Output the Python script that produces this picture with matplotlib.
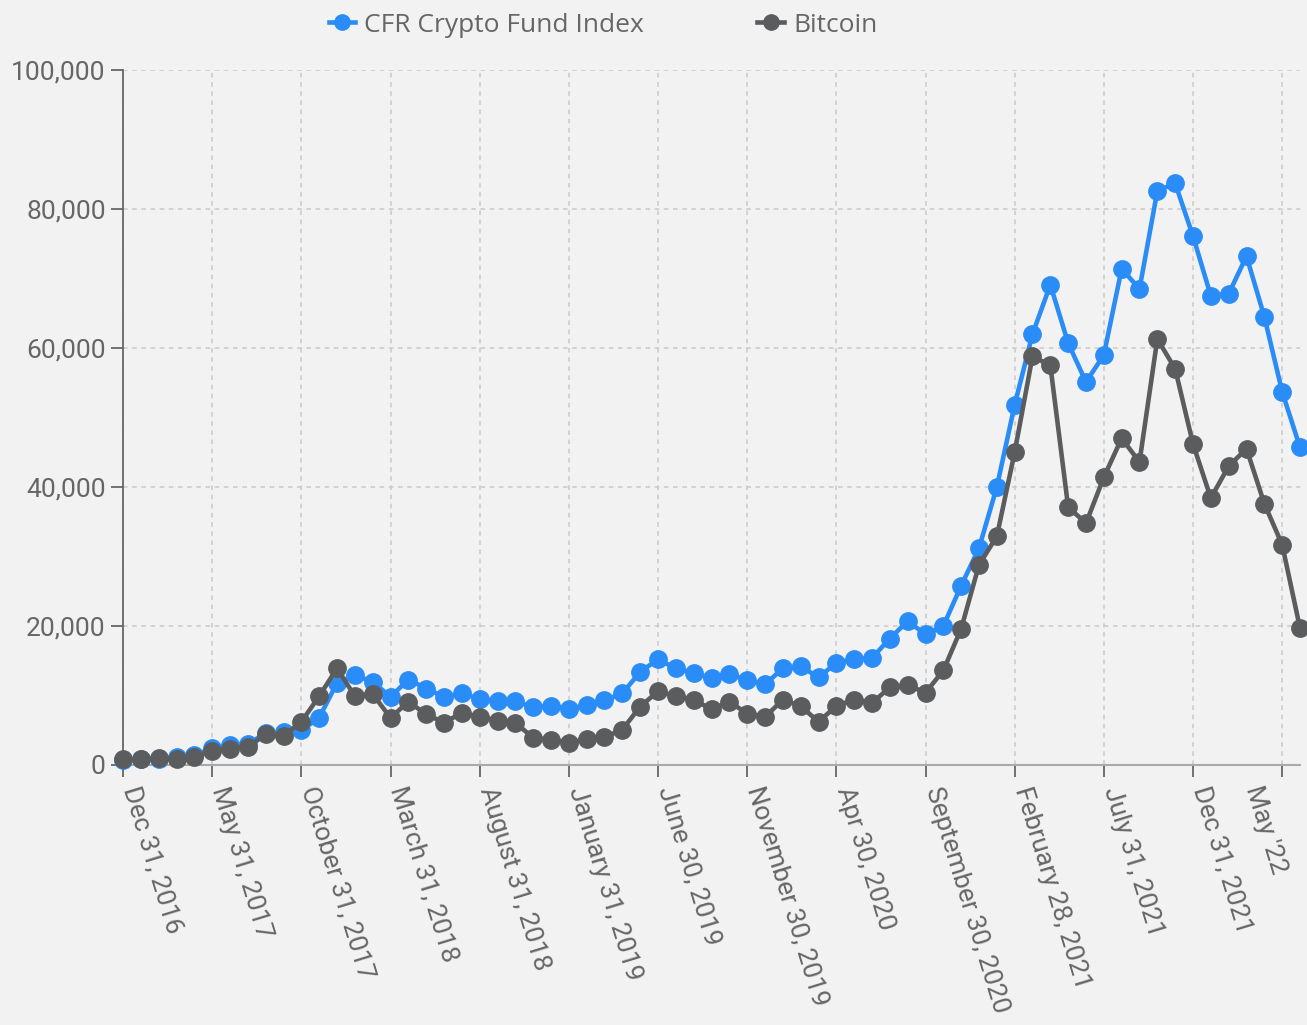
import matplotlib
matplotlib.use("Agg")
import matplotlib.pyplot as plt
from matplotlib.ticker import FuncFormatter
from matplotlib.lines import Line2D

months = list(range(67))  # Dec 2016 .. Jun 2022, monthly

cfr_index = [700, 800, 900, 1100, 1400, 2400, 2900, 3000, 4600, 4700,
             5000, 6800, 11800, 12900, 12000, 9800, 12300, 11000, 9800, 10300,
             9500, 9200, 9200, 8300, 8500, 8000, 8600, 9300, 10300, 13400,
             15200, 13900, 13200, 12500, 13100, 12200, 11600, 13900, 14200, 12600,
             14700, 15200, 15400, 18200, 20700, 18800, 20000, 25800, 31200, 40000,
             51800, 62000, 69100, 60700, 55100, 59000, 71400, 68500, 82600, 83700,
             76100, 67500, 67800, 73200, 64500, 53700, 45700]

bitcoin = [800, 800, 1000, 900, 1200, 2000, 2300, 2600, 4400, 4200,
           6200, 9900, 13900, 9900, 10200, 6800, 9100, 7300, 6100, 7500,
           6900, 6400, 6100, 3900, 3600, 3200, 3700, 4000, 5100, 8400,
           10600, 9900, 9400, 8000, 9100, 7400, 6900, 9400, 8500, 6200,
           8500, 9400, 8900, 11200, 11500, 10400, 13600, 19600, 28800, 32900,
           45000, 58800, 57500, 37100, 34800, 41400, 47000, 43600, 61300, 57000,
           46200, 38400, 43000, 45500, 37600, 31700, 19700]

tick_months = [0, 5, 10, 15, 20, 25, 30, 35, 40, 45, 50, 55, 60, 65]
tick_labels = ["Dec 31, 2016", "May 31, 2017", "October 31, 2017", "March 31, 2018",
               "August 31, 2018", "January 31, 2019", "June 30, 2019",
               "November 30, 2019", "Apr 30, 2020", "September 30, 2020",
               "February 28, 2021", "July 31, 2021", "Dec 31, 2021", "May '22"]
y_ticks = [0, 20000, 40000, 60000, 80000, 100000]

BLUE = "#2a8cf7"
GRAY = "#5b5c5e"
BG = "#f2f2f2"
TXT = "#666666"
ROT = -73
FS = 19

fig = plt.figure(figsize=(13.07, 10.25), dpi=100, facecolor=BG)
ax = fig.add_axes([123/1307, (1025-765)/1025, (1300-123)/1307, 695/1025])
ax.set_facecolor(BG)

ax.plot(months, cfr_index, color=BLUE, lw=3.3, marker="o", ms=12.5,
        clip_on=False, zorder=3, label="CFR Crypto Fund Index")
ax.plot(months, bitcoin, color=GRAY, lw=3.3, marker="o", ms=12.5,
        clip_on=False, zorder=4, label="Bitcoin")

ax.set_xlim(0, 66)
ax.set_ylim(0, 100000)
ax.set_yticks(y_ticks)
ax.yaxis.set_major_formatter(FuncFormatter(lambda v, p: f"{int(v):,}"))
ax.set_xticks(tick_months)
# last label is drawn separately, pulled left so it stays inside the image
ax.set_xticklabels(tick_labels[:-1] + [""], rotation=ROT, ha="left",
                   va="baseline", rotation_mode="anchor")
ax.annotate(tick_labels[-1], xy=(tick_months[-1], 0),
            xycoords=("data", "axes fraction"),
            xytext=(-26.5, -17), textcoords="offset points",
            rotation=ROT, ha="left", va="baseline", rotation_mode="anchor",
            family="Roboto", fontsize=FS, color=TXT, annotation_clip=False)

for lab in ax.get_xticklabels() + ax.get_yticklabels():
    lab.set_fontfamily("Roboto")
    lab.set_fontsize(FS)
    lab.set_color(TXT)

ax.tick_params(axis="both", colors="#666666", length=8.5, width=1.3,
               labelcolor=TXT)
ax.tick_params(axis="x", pad=9)
ax.tick_params(axis="y", pad=4)

ax.grid(True, color="#c9c9c9", linestyle=(0, (3, 3)), linewidth=1.1, zorder=0)
ax.set_axisbelow(True)
for s in ["top", "right"]:
    ax.spines[s].set_visible(False)
ax.spines["left"].set_color("#666666")
ax.spines["left"].set_linewidth(1.3)
ax.spines["bottom"].set_color("#aaaaaa")
ax.spines["bottom"].set_linewidth(1.5)

handles = [Line2D([0], [0], color=BLUE, lw=3.3, marker="o", ms=11),
           Line2D([0], [0], color=GRAY, lw=3.3, marker="o", ms=11)]
leg = fig.legend(handles, ["CFR Crypto Fund Index", "Bitcoin"],
                 loc="center", bbox_to_anchor=(603/1307, 1 - 25/1025), ncol=2,
                 frameon=False, handlelength=1.0, handletextpad=0.35,
                 columnspacing=4.3, borderpad=0,
                 prop={"family": "Open Sans", "size": 19})
for t in leg.get_texts():
    t.set_color(TXT)

fig.savefig("out.png", dpi=100, facecolor=BG)
